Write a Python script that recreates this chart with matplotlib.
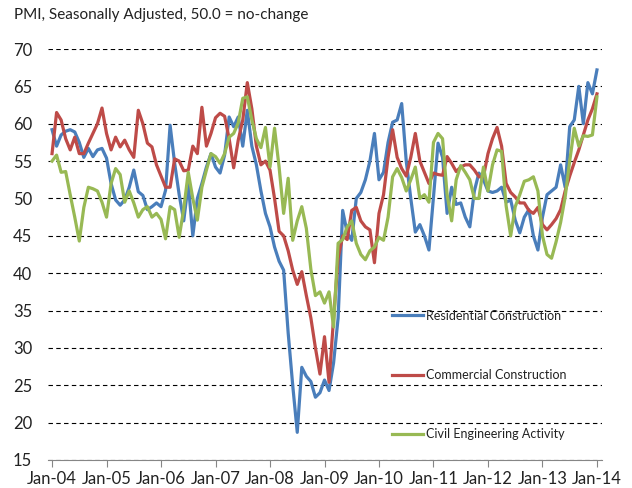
import numpy as np
import matplotlib
matplotlib.use('Agg')
import matplotlib.pyplot as plt

plt.rcParams['font.family'] = ['Lato', 'DejaVu Sans']

# monthly PMI readings, Jan-04 .. Jan-14
residential = [
    59.2, 57.0, 58.5, 59.0, 59.2, 58.9, 57.5, 55.5, 56.7, 55.6, 56.5, 56.7,
    55.4, 52.0, 49.8, 49.1, 49.8, 51.5, 53.8, 50.9, 50.4, 48.5, 48.9, 49.4,
    48.9, 51.1, 59.8, 54.7, 50.5, 47.0, 52.0, 45.0, 50.0, 52.0, 54.2, 56.0,
    54.2, 53.4, 55.8, 60.9, 59.6, 60.9, 57.0, 61.8, 57.0, 54.5, 51.0, 48.0,
    46.2, 43.5, 41.6, 40.4, 32.0, 25.0, 18.7, 27.4, 26.2, 25.5, 23.4, 24.0,
    25.7, 24.3, 28.0, 34.0, 48.4, 45.4, 44.4, 50.0, 50.8, 52.5, 55.0, 58.7,
    52.5, 53.5, 57.5, 60.2, 60.5, 62.7, 55.0, 50.0, 45.5, 46.5, 45.0, 43.1,
    50.2, 57.4, 55.5, 48.0, 51.5, 49.2, 49.4, 47.5, 46.2, 51.0, 53.4, 52.5,
    51.0, 50.8, 51.0, 51.5, 49.5, 49.8, 47.1, 45.4, 47.5, 48.5, 45.0, 43.1,
    47.5, 50.5, 51.0, 51.5, 54.5, 51.5, 59.6, 60.5, 65.0, 60.0, 65.5, 64.0,
    67.2]

commercial = [
    56.0, 61.5, 60.5, 58.0, 56.5, 58.2, 56.0, 56.0, 57.4, 58.7, 60.0, 62.1,
    58.7, 56.5, 58.2, 56.9, 57.8, 56.5, 55.5, 61.8, 60.0, 57.4, 56.9, 54.5,
    53.0, 51.5, 51.5, 55.3, 55.0, 53.7, 53.8, 57.0, 56.0, 62.2, 57.0, 58.7,
    60.8, 61.4, 61.0, 58.0, 54.1, 57.8, 60.5, 65.5, 62.0, 57.0, 54.5, 55.0,
    53.8, 50.0, 45.6, 45.0, 43.0, 40.4, 38.5, 40.2, 37.0, 34.0, 30.0, 26.5,
    31.5, 25.4, 34.0, 42.0, 45.0, 44.5, 48.4, 48.8, 47.0, 46.2, 45.8, 41.4,
    48.0, 50.5, 55.5, 59.2, 55.5, 54.0, 53.0, 55.5, 58.7, 55.0, 53.5, 52.0,
    53.4, 53.2, 53.1, 55.6, 54.7, 53.6, 54.2, 54.5, 54.5, 53.8, 52.9, 52.9,
    56.0, 58.0, 59.5, 57.0, 52.0, 50.8, 50.2, 49.4, 49.4, 48.4, 48.0, 48.8,
    46.5, 45.8, 46.5, 47.3, 48.5, 51.0, 53.0, 54.8, 56.5, 58.5, 60.5, 62.0,
    64.0]

civil = [
    55.0, 55.8, 53.5, 53.6, 50.5, 47.5, 44.3, 48.8, 51.5, 51.3, 51.0, 49.5,
    47.5, 52.0, 54.0, 53.2, 49.5, 51.0, 49.4, 47.5, 48.5, 48.9, 47.5, 48.0,
    47.2, 44.6, 48.9, 48.5, 44.8, 48.6, 53.5, 50.0, 47.1, 51.5, 53.8, 56.0,
    55.6, 54.7, 56.0, 58.2, 58.7, 60.1, 63.4, 63.6, 60.5, 58.0, 56.8, 59.5,
    54.2, 59.4, 54.2, 48.0, 52.7, 44.4, 47.0, 48.9, 46.0, 40.5, 37.0, 37.5,
    36.0, 37.5, 32.8, 44.0, 44.5, 46.2, 47.0, 44.0, 42.5, 41.8, 43.0, 43.5,
    44.8, 44.4, 47.5, 52.9, 54.0, 52.8, 51.0, 52.5, 54.2, 50.0, 50.5, 49.5,
    57.5, 58.7, 58.0, 50.5, 47.0, 52.5, 54.4, 53.5, 52.5, 50.0, 50.0, 54.2,
    51.0, 54.5, 56.5, 56.3, 49.0, 45.0, 48.9, 50.5, 52.3, 52.5, 52.9, 51.0,
    45.0, 42.5, 42.0, 44.2, 46.8, 50.2, 55.0, 59.4, 57.0, 58.4, 58.3, 58.5,
    63.6]

year_labels = ['Jan-04', 'Jan-05', 'Jan-06', 'Jan-07', 'Jan-08', 'Jan-09',
               'Jan-10', 'Jan-11', 'Jan-12', 'Jan-13', 'Jan-14']

months = np.arange(len(residential))

fig = plt.figure(figsize=(6.32, 4.88), dpi=100)
ax = fig.add_axes([47.5 / 632, 28 / 488, 554 / 632, 411 / 488])

ax.plot(months, residential, color='#4A7EBB', lw=2.3, label='Residential Construction')
ax.plot(months, commercial, color='#BE4B48', lw=2.3, label='Commercial Construction')
ax.plot(months, civil, color='#98B954', lw=2.3, label='Civil Engineering Activity')

ax.set_xlim(-1, 121)
ax.set_ylim(15, 70)
ax.set_yticks(range(15, 71, 5))
ax.set_xticks(range(0, 121, 12))
ax.set_xticklabels(year_labels)

ax.set_axisbelow(True)
ax.yaxis.grid(True, linestyle=(0, (4, 3)), color='black', lw=0.8)
for s in ['top', 'right', 'left']:
    ax.spines[s].set_visible(False)
ax.spines['bottom'].set_color('#868686')
ax.tick_params(axis='y', length=0, pad=11, labelsize=12, labelcolor='#222222')
ax.tick_params(axis='x', length=5, color='#868686', direction='out', pad=3,
               labelsize=12, labelcolor='#222222')

fig.text(14 / 632, 1 - 15 / 488, 'PMI, Seasonally Adjusted, 50.0 = no-change',
         fontsize=11, va='center', ha='left', color='#222222')

ax.legend(loc='center left', bbox_to_anchor=(392 / 632, 113 / 488),
          bbox_transform=fig.transFigure, frameon=False, fontsize=9,
          handlelength=2.5, handletextpad=0.25, labelspacing=3.8,
          borderpad=0, borderaxespad=0, labelcolor='#222222')

fig.savefig('out.png', dpi=100)
